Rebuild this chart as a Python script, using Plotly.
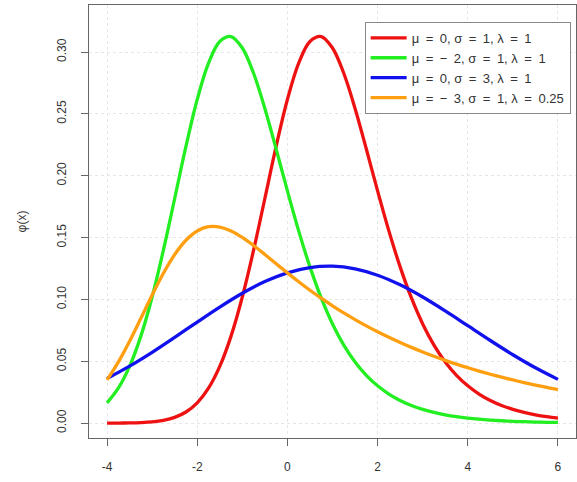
import plotly.graph_objects as go

# Exponentially modified Gaussian densities, sampled on a 0.25 grid (blue on 0.5)
x_grid = [-4 + 0.25 * i for i in range(41)]

red_y = [0.0000258, 0.0000713, 0.0001855, 0.0004545, 0.001049, 0.002280, 0.004672, 0.009026,
         0.016444, 0.028272, 0.045884, 0.070344, 0.10196, 0.13982, 0.18160, 0.22366,
         0.26158, 0.29099, 0.30854, 0.31253, 0.30327, 0.28281, 0.25438, 0.22157,
         0.18773, 0.15541, 0.12630, 0.10118, 0.080218, 0.063147, 0.049478, 0.038658,
         0.030156, 0.023504, 0.018312, 0.014263, 0.011109, 0.0086517, 0.0067379, 0.0052475,
         0.0040868]

green_y = [0.016444, 0.028272, 0.045884, 0.070344, 0.10196, 0.13982, 0.18160, 0.22366,
           0.26158, 0.29099, 0.30854, 0.31253, 0.30327, 0.28281, 0.25438, 0.22157,
           0.18773, 0.15541, 0.12630, 0.10118, 0.080218, 0.063147, 0.049478, 0.038658,
           0.030156, 0.023504, 0.018312, 0.014263, 0.011109, 0.0086517, 0.0067379, 0.0052475,
           0.0040868, 0.0031828, 0.0024788, 0.0019305, 0.0015034, 0.0011709, 0.00091188,
           0.00071017, 0.00055308]

orange_y = [0.034991, 0.049363, 0.066238, 0.084716, 0.103508, 0.121154, 0.136282, 0.147860,
            0.155356, 0.158770, 0.158548, 0.155410, 0.150179, 0.143624, 0.136375, 0.128893,
            0.121477, 0.114303, 0.107461, 0.100985, 0.094881, 0.089137, 0.083739, 0.078666,
            0.073900, 0.069422, 0.065216, 0.061265, 0.057553, 0.054066, 0.050790, 0.047713,
            0.044822, 0.042107, 0.039555, 0.037159, 0.034907, 0.032792, 0.030806, 0.028939,
            0.027186]

x_blue = [-4 + 0.5 * i for i in range(21)]
blue_y = [0.03609, 0.04607, 0.05726, 0.06933, 0.08173, 0.09384, 0.10500, 0.11444,
          0.12151, 0.12576, 0.12686, 0.12473, 0.11958, 0.11180, 0.10196, 0.09073,
          0.07880, 0.06681, 0.05532, 0.04476, 0.03540]

# en spaces around "=" to mimic plotmath spacing
S = "\u2002"
labels = [f"μ{S}={S}0, σ{S}={S}1, λ{S}={S}1",
          f"μ{S}={S}−{S}2, σ{S}={S}1, λ{S}={S}1",
          f"μ{S}={S}0, σ{S}={S}3, λ{S}={S}1",
          f"μ{S}={S}−{S}3, σ{S}={S}1, λ{S}={S}0.25"]
colors = ["#ee1111", "#22ee22", "#1111ee", "#ff9f10"]

x_ticks = [-4, -2, 0, 2, 4, 6]
y_ticks = [0.0, 0.05, 0.10, 0.15, 0.20, 0.25, 0.30]
y_tick_text = ["0.00", "0.05", "0.10", "0.15", "0.20", "0.25", "0.30"]

series = [(x_grid, red_y), (x_grid, green_y), (x_blue, blue_y), (x_grid, orange_y)]

fig = go.Figure()
for (xs, ys), name, col in zip(series, labels, colors):
    fig.add_trace(go.Scatter(x=xs, y=ys, mode="lines", name=name,
                             line=dict(color=col, width=3.3, shape="spline", smoothing=1.0)))

axis_common = dict(showline=True, linecolor="#666666", linewidth=1, mirror=True,
                   ticks="outside", ticklen=7, tickcolor="#666666",
                   showgrid=True, gridcolor="#e6e6e6", griddash="dot", gridwidth=1,
                   zeroline=False, tickfont=dict(size=12, color="#333333"))

fig.update_xaxes(range=[-4.4, 6.4], tickvals=x_ticks, ticktext=[str(v) for v in x_ticks],
                 ticklabelstandoff=11, **axis_common)
fig.update_yaxes(range=[-0.012, 0.338], tickvals=y_ticks, ticktext=y_tick_text,
                 tickangle=-90, ticklabelstandoff=10,
                 title=dict(text="φ(x)", font=dict(size=12, color="#333333"), standoff=26),
                 **axis_common)

fig.update_layout(
    width=577, height=482,
    margin=dict(l=89, r=1, t=5, b=44),
    paper_bgcolor="white", plot_bgcolor="white",
    font=dict(family="Liberation Sans, Arial, sans-serif", color="#333333"),
    legend=dict(x=0.566, y=0.961, xanchor="left", yanchor="top",
                bgcolor="white", bordercolor="#888888", borderwidth=1,
                itemwidth=36,
                font=dict(size=13, color="#333333"), tracegroupgap=0),
)

fig.write_html("out.html")
